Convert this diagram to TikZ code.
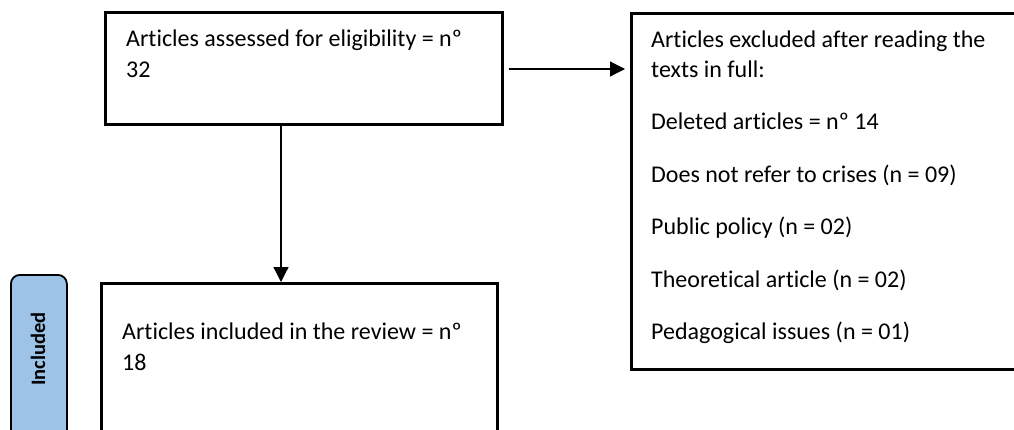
\documentclass[tikz,border=0pt]{standalone}
\usepackage{fontspec}
\setmainfont{Carlito}[Ligatures=NoCommon]
\usetikzlibrary{arrows.meta}
\definecolor{sidefill}{HTML}{9DC3E6}
\begin{document}
\begin{tikzpicture}[x=1pt,y=-1pt,
  box/.style={draw=black,line width=2.6pt,inner sep=0pt,anchor=north west},
  txt/.style={anchor=base west,inner sep=0pt,font=\fontsize{24}{30}\selectfont},
  conn/.style={line width=1.2pt,-{Triangle[length=15pt,width=15pt]}},
  sidebox/.style={draw=black,line width=1.8pt,fill=sidefill,rounded corners=9pt,inner sep=0pt,anchor=north west}]
\useasboundingbox (0,0) rectangle (1014,429);
\clip (0,0) rectangle (1014,429);
% boxes
\node[box, minimum width=397pt, minimum height=112pt] (assess) at (104,11) {};
\node[box, minimum width=392pt, minimum height=356pt] (excl) at (630,12) {};
\node[box, minimum width=396pt, minimum height=170pt] (incl) at (100,282) {};
\node[sidebox, minimum width=56pt, minimum height=190pt] (side) at (10,274) {};
% texts
\node[txt] (t1a) at (126,46) {Articles assessed for eligibility = nº};
\node[txt] (t1b) at (126,77) {32};
\node[txt] (t2a) at (651,47) {Articles excluded after reading the};
\node[txt] (t2b) at (651,77) {texts in full:};
\node[txt] (t2c) at (651,129) {Deleted articles = nº 14};
\node[txt] (t2d) at (651,182) {Does not refer to crises (n = 09)};
\node[txt] (t2e) at (651,234) {Public policy (n = 02)};
\node[txt] (t2f) at (651,287) {Theoretical article (n = 02)};
\node[txt] (t2g) at (651,339) {Pedagogical issues (n = 01)};
\node[txt] (t3a) at (122,339) {Articles included in the review = nº};
\node[txt] (t3b) at (122,370) {18};
\node[rotate=90, inner sep=0pt, font=\fontsize{20.5}{24}\selectfont\bfseries] (sidelabel) at (38,349) {Included};
% connectors
\coordinate (vx) at (281,0);
\coordinate (hy) at (0,69);
\draw[conn] (vx |- assess.south) -- (vx |- incl.north);
\draw[conn, shorten <=5pt, shorten >=5pt] (assess.east |- hy) -- (excl.west |- hy);
\end{tikzpicture}
\end{document}
